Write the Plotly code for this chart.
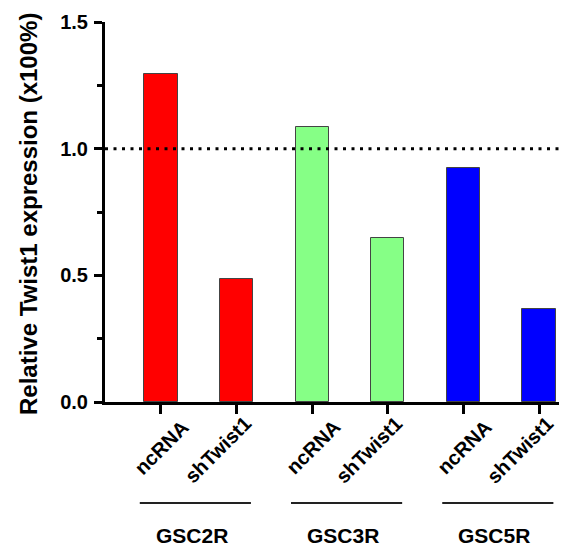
import plotly.graph_objects as go

groups = ["GSC2R", "GSC3R", "GSC5R"]
conditions = ["ncRNA", "shTwist1"]
values = [1.295, 0.485, 1.087, 0.648, 0.923, 0.368]
group_colors = ["#FF0000", "#86FF86", "#0000FF"]
ytick_vals = [0, 0.5, 1.0, 1.5]
ytick_text = ["0.0", "0.5", "1.0", "1.5"]
y_title = "Relative Twist1 expression (x100%)"
ref_level = 1.0

FONT = "Liberation Sans"
OFF = 8  # page body margin
PW, PH = 567, 547
W, H = PW - OFF, PH - OFF
L, R, T = 105 - OFF, 0, 22 - OFF
B = H - (402 - OFF)
plot_h = H - T - B
BOTTOM = 402  # page y of the x axis

xs = list(range(len(values)))
colors = [group_colors[i // 2] for i in xs]

fig = go.Figure()
fig.add_trace(go.Bar(
    x=xs, y=values, width=0.44,
    marker=dict(color=colors, line=dict(color="#444444", width=1)),
    showlegend=False, hoverinfo="skip",
))

# reference dotted line
fig.add_shape(type="line", xref="paper", yref="y", x0=0, x1=1, y0=ref_level, y1=ref_level,
              line=dict(color="black", width=3, dash="3px,5.5px"), layer="above")

# condition labels (rotated)
label_dx = {"ncRNA": 1, "shTwist1": -19}
label_y = {"ncRNA": 447, "shTwist1": 450}
for i in xs:
    lab = conditions[i % 2]
    fig.add_annotation(
        x=i, xref="x", y=0, yref="paper", text=lab, showarrow=False,
        textangle=-45, xanchor="center", yanchor="middle",
        xshift=label_dx[lab], yshift=-(label_y[lab] - BOTTOM),
        font=dict(family=FONT, size=20, color="black", weight="bold"),
    )

# group lines and labels
for g, name in enumerate(groups):
    fig.add_shape(type="line", xref="x", yref="paper",
                  x0=2 * g - 0.28, x1=2 * g + 1.19,
                  y0=-(503 - BOTTOM) / plot_h, y1=-(503 - BOTTOM) / plot_h,
                  line=dict(color="#222222", width=2))
    fig.add_annotation(
        x=2 * g + 0.41, xref="x", y=0, yref="paper", text=name, showarrow=False,
        xanchor="center", yanchor="middle", yshift=-(535 - BOTTOM),
        font=dict(family=FONT, size=21, color="black", weight="bold"),
    )

# y title
fig.add_annotation(
    x=0, xref="paper", y=0.5, yref="paper", text=y_title, showarrow=False,
    textangle=-90, xanchor="center", yanchor="middle", xshift=-(105 - 28), yshift=-2,
    font=dict(family=FONT, size=24, color="black", weight="bold"),
)

fig.update_layout(
    width=W, height=H,
    margin=dict(l=L, r=R, t=T, b=B, pad=0),
    plot_bgcolor="white", paper_bgcolor="white",
    bargap=0,
    xaxis=dict(range=[-0.74, 5.37], showline=True, linewidth=3, linecolor="black",
               ticks="outside", ticklen=9, tickwidth=3, tickcolor="black",
               tickvals=xs, showticklabels=False, showgrid=False, zeroline=False,
               fixedrange=True),
    yaxis=dict(range=[0, 1.5], showline=True, linewidth=3, linecolor="black",
               ticks="outside", ticklen=8, tickwidth=3, tickcolor="black",
               tickvals=ytick_vals, ticktext=ytick_text,
               tickfont=dict(family=FONT, size=20, color="black", weight="bold"),
               ticklabelstandoff=2,
               minor=dict(ticks="outside", tickvals=[0.25, 0.75, 1.25], ticklen=5,
                          tickwidth=3, tickcolor="black"),
               showgrid=False, zeroline=False, fixedrange=True),
)

fig.write_html("out.html")
